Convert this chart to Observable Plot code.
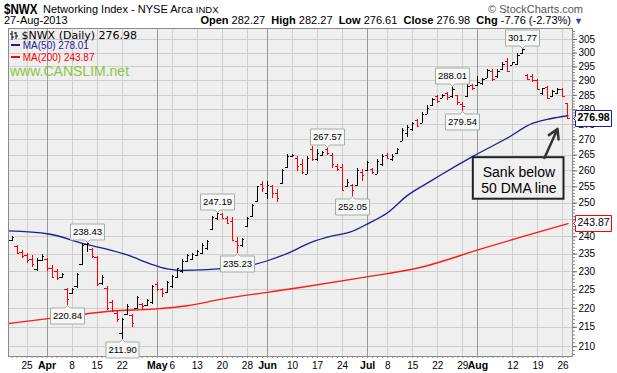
<!DOCTYPE html>
<html><head><meta charset="utf-8">
<script src="https://cdn.jsdelivr.net/npm/d3@7"></script>
<script src="https://cdn.jsdelivr.net/npm/@observablehq/plot@0.6"></script>
<style>
body{margin:0;background:#fff;font-family:"Liberation Sans",Arial,sans-serif;}
#wrap{position:relative;width:617px;height:373px;overflow:hidden;background:#fff;}
#chart{position:absolute;left:0;top:0;}
.abs{position:absolute;white-space:nowrap;line-height:1;}
.b{font-weight:bold;}
</style></head><body>
<div id="wrap">
  <div id="chart"></div>
  <div class="abs" style="left:4px;top:1.5px;font-size:14.5px;font-weight:bold;transform:scaleX(0.8);transform-origin:0 0">$NWX</div>
  <div class="abs" style="left:43px;top:3.5px;font-size:11px">Networking Index - NYSE Arca <span style="font-size:9.5px">INDX</span></div>
  <div class="abs" style="right:34px;top:3.5px;font-size:11px;color:#555">© StockCharts.com</div>
  <div class="abs" style="left:4px;top:15px;font-size:11px">27-Aug-2013</div>
  <div class="abs" style="right:34px;top:15px;font-size:11px"><span class="b">Open</span> 282.27&nbsp; <span class="b">High</span> 282.27&nbsp; <span class="b">Low</span> 276.61&nbsp; <span class="b">Close</span> 276.98&nbsp; <span class="b">Chg</span> -7.76 (-2.73%) <span style="color:#1a3fd6;font-size:9px">▼</span></div>
  <div class="abs" style="left:10px;top:29.5px;font-family:'DejaVu Sans',Verdana,sans-serif;font-size:11px"><svg width="8" height="9" style="vertical-align:-1px"><path d="M2 0V9M0 3H2M2 6H4M6 1V8M4 2H6M6 5H8" stroke="#000" fill="none"/></svg> $NWX (Daily) 276.98</div>
  <div class="abs" style="left:11px;top:41px;font-size:10px;color:#1c1c96"><span style="display:inline-block;width:9px;height:2px;background:#1c1c96;vertical-align:3px"></span> MA(50) 278.01</div>
  <div class="abs" style="left:11px;top:52.5px;font-size:10px;color:#f00"><span style="display:inline-block;width:9px;height:2px;background:#f00;vertical-align:3px"></span> MA(200) 243.87</div>
  <div class="abs" style="left:10px;top:64px;font-size:14px;color:#8cc63f">www.CANSLIM.net</div>
</div>
<script>
// ---- data ----
const dates = ["2013-03-20","2013-03-21","2013-03-22","2013-03-25","2013-03-26","2013-03-27","2013-03-28",
"2013-04-01","2013-04-02","2013-04-03","2013-04-04","2013-04-05","2013-04-08","2013-04-09","2013-04-10","2013-04-11","2013-04-12",
"2013-04-15","2013-04-16","2013-04-17","2013-04-18","2013-04-19","2013-04-22","2013-04-23","2013-04-24","2013-04-25","2013-04-26",
"2013-04-29","2013-04-30","2013-05-01","2013-05-02","2013-05-03","2013-05-06","2013-05-07","2013-05-08","2013-05-09","2013-05-10",
"2013-05-13","2013-05-14","2013-05-15","2013-05-16","2013-05-17","2013-05-20","2013-05-21","2013-05-22","2013-05-23","2013-05-24",
"2013-05-28","2013-05-29","2013-05-30","2013-05-31","2013-06-03","2013-06-04","2013-06-05","2013-06-06","2013-06-07",
"2013-06-10","2013-06-11","2013-06-12","2013-06-13","2013-06-14","2013-06-17","2013-06-18","2013-06-19","2013-06-20","2013-06-21",
"2013-06-24","2013-06-25","2013-06-26","2013-06-27","2013-06-28","2013-07-01","2013-07-02","2013-07-03","2013-07-05",
"2013-07-08","2013-07-09","2013-07-10","2013-07-11","2013-07-12","2013-07-15","2013-07-16","2013-07-17","2013-07-18","2013-07-19",
"2013-07-22","2013-07-23","2013-07-24","2013-07-25","2013-07-26","2013-07-29","2013-07-30","2013-07-31","2013-08-01","2013-08-02",
"2013-08-05","2013-08-06","2013-08-07","2013-08-08","2013-08-09","2013-08-12","2013-08-13","2013-08-14","2013-08-15","2013-08-16",
"2013-08-19","2013-08-20","2013-08-21","2013-08-22","2013-08-23","2013-08-26","2013-08-27"];
const open = [239.0,237.2,235.5,234.5,233.5,230.5,233.2,233.5,231.0,230.0,228.4,225.0,224.0,225.8,232.0,237.8,236.3,234.0,226.8,225.5,
221.5,218.5,213.5,218.3,218.0,220.0,221.0,220.8,221.5,226.5,225.0,224.3,226.0,228.3,230.0,233.0,233.5,234.5,235.2,236.5,
242.0,245.5,246.5,245.5,244.5,238.5,237.5,243.0,246.0,250.5,255.8,253.0,255.0,253.0,256.0,261.0,264.5,264.0,262.0,259.0,
267.0,263.5,265.0,267.0,265.0,261.5,261.0,255.0,255.5,255.5,259.5,260.0,260.5,259.0,262.0,265.0,263.5,265.5,269.5,272.0,
273.5,276.5,275.5,278.5,281.5,284.5,284.0,285.8,284.5,285.0,282.0,284.5,288.5,288.5,289.0,291.0,293.5,291.5,294.0,297.0,
295.6,296.0,300.0,292.0,291.5,290.0,285.5,287.8,284.6,285.6,287.0,282.27];
const high = [240.1,237.5,236.1,235.2,234.5,233.7,234.8,233.8,231.8,230.5,229.5,225.5,225.5,229.5,238.0,238.43,236.6,234.2,229.0,225.9,
222.0,219.4,217.2,221.0,218.4,223.3,221.4,222.3,226.3,227.0,225.5,227.2,229.0,231.0,233.4,235.0,235.3,236.0,237.9,238.8,
246.1,247.19,246.8,246.0,245.6,239.8,239.5,245.8,249.7,255.2,256.7,256.7,255.5,254.2,260.3,265.1,265.3,264.6,263.5,264.6,
267.8,266.7,266.1,267.57,265.6,261.9,261.9,257.2,255.7,260.8,260.3,263.0,260.8,263.5,265.1,265.6,265.1,267.3,273.6,274.7,
275.8,276.9,279.2,281.5,284.0,285.0,285.3,286.1,288.01,285.0,282.6,288.8,288.8,291.6,291.0,294.1,294.1,294.1,296.7,297.9,
296.7,299.7,301.77,292.3,292.3,290.5,287.5,288.1,286.8,287.5,287.5,282.27];
const low = [238.6,234.8,233.7,232.3,231.3,230.0,232.9,230.0,228.0,227.5,228.2,220.84,223.7,225.5,231.7,235.5,233.7,225.9,226.3,219.4,
218.9,216.3,211.90,218.0,215.0,219.7,219.4,220.6,221.0,224.5,222.8,224.0,225.5,228.0,229.5,232.5,233.2,234.3,234.8,236.1,
241.8,244.8,245.0,243.8,238.5,235.23,236.8,242.6,245.6,250.2,253.2,251.0,251.5,250.2,255.8,260.8,264.3,259.8,258.8,258.8,
263.0,263.0,264.6,265.0,260.8,259.8,253.7,254.7,252.05,255.1,256.7,259.8,258.8,258.8,261.3,263.5,263.0,265.1,269.3,270.9,
272.6,274.2,275.3,278.3,281.1,282.1,283.8,283.2,284.0,281.6,279.54,284.2,286.7,288.0,288.3,290.8,289.8,291.0,293.6,293.0,
295.5,295.5,299.5,290.1,289.5,286.6,285.1,283.5,284.4,285.3,284.7,276.61];
const close = [239.8,235.3,234.2,233.2,232.0,233.2,234.3,231.0,228.5,228.0,229.2,222.5,225.2,229.2,237.5,237.9,234.3,226.5,228.5,220.0,
219.5,217.0,217.1,220.5,216.0,222.8,220.5,222.0,225.8,225.2,224.0,227.0,228.7,230.8,233.0,234.7,235.0,235.8,237.5,238.5,
245.8,246.8,245.5,244.0,239.0,237.5,239.2,245.3,249.3,255.0,254.5,255.5,253.0,251.5,260.0,264.5,265.0,261.5,259.5,264.0,
263.5,265.5,265.8,265.5,262.0,260.5,254.0,256.5,254.0,260.0,258.5,262.5,259.5,263.0,264.5,264.0,264.5,267.0,273.0,274.0,
275.5,274.5,278.5,280.5,283.5,282.8,284.8,284.2,287.0,282.5,281.0,288.0,287.2,289.5,290.5,293.8,290.5,293.5,296.0,293.5,
296.5,299.3,301.2,290.5,290.2,287.0,287.2,284.0,286.3,287.0,284.74,276.98];
// moving averages (bar position, value)
const ma50Pos = [-0.7,7.3,15,18.7,23.3,27.6,31,33.6,39,43,47.6,51,55,59.6,64.2,67.6,71,74.9,78.9,83.5,85.5,92,98.8,104,107.5,111];
const ma50Val = [241.7,240.8,237.7,236.5,234.6,232.2,230.8,230.4,230.6,231.0,231.8,233.1,235.2,238.3,240.3,241.4,243.8,247.0,252.3,256.7,258.6,264.6,270.5,275.5,277.0,278.01];
const ma200Pos = [-0.7,11.7,20,28.2,35,41.6,56.9,69.6,81.5,93.5,101.4,111];
const ma200Val = [216.0,218.0,219.3,219.8,220.7,222.4,225.5,228.3,231.2,236.4,239.8,243.87];
// x-axis tick labels
const tickDates = ["2013-03-25","2013-04-01","2013-04-08","2013-04-15","2013-04-22","2013-05-01","2013-05-06","2013-05-13","2013-05-20","2013-05-28",
"2013-06-03","2013-06-10","2013-06-17","2013-06-24","2013-07-01","2013-07-08","2013-07-15","2013-07-22","2013-07-29","2013-08-01","2013-08-12","2013-08-19","2013-08-26"];
const tickLabels = ["25","Apr","8","15","22","May","6","13","20","28","Jun","10","17","24","Jul","8","15","22","29","Aug","12","19","26"];
const yTicks = d3.range(210, 306, 5);
// callouts
const peakDates = ["2013-04-11","2013-05-17","2013-06-19","2013-07-25","2013-08-14"];
const peakVals = [238.43,247.19,267.57,288.01,301.77];
const troughDates = ["2013-04-05","2013-04-22","2013-05-23","2013-06-26","2013-07-29"];
const troughVals = [220.84,211.90,235.23,252.05,279.54];
const note = {text: "Sank below\n50 DMA line", x1: 92.1, x2: 110.2, y1: 251.2, y2: 264.2, tx: 101.2, ty: 257.2, ax1: 106.3, ay1: 264.1, ax2: 108.9, ay2: 273.6};
const lastClose = 276.98, lastMA200 = 243.87;

// ---- build ----
const bars = dates.map((d, i) => ({i, o: open[i], h: high[i], l: low[i], c: close[i],
  col: i === 0 || close[i] >= close[i - 1] ? "#000000" : "#ff0000"}));
const ix = d => dates.indexOf(d);
const ticks = tickDates.map((d, k) => ({i: ix(d), label: tickLabels[k], month: isNaN(+tickLabels[k])}));
const dayTicks = ticks.filter(t => !t.month), monthTicks = ticks.filter(t => t.month);
const lab = new Map(ticks.map(t => [t.i, t.label]));
const ma50 = ma50Pos.map((p, k) => ({p, v: ma50Val[k]}));
const ma200 = ma200Pos.map((p, k) => ({p, v: ma200Val[k]}));
const peaks = peakDates.map((d, k) => ({i: ix(d), v: peakVals[k]}));
const troughs = troughDates.map((d, k) => ({i: ix(d), v: troughVals[k]}));
const lastI = dates.length - 1;
const blank = () => "";

const tipStyle = {fill: "#f7f7f7", stroke: "#9fb09f", fontSize: 9.5, textPadding: 2.5, pointerSize: 5, pathFilter: "none", fontFamily: "Liberation Sans, Arial, sans-serif"};

const chart = Plot.plot({
  width: 617, height: 373,
  marginLeft: 8, marginRight: 45, marginTop: 28, marginBottom: 17,
  x: {type: "linear", domain: [-0.7, 111.9], axis: null},
  y: {type: "log", domain: [207.5, 309.1], axis: null},
  style: {fontFamily: "Liberation Sans, Arial, sans-serif", fontSize: "10px", background: "transparent", color: "#000"},
  marks: [
    Plot.frame({fill: "#efefef", stroke: null}),
    Plot.gridY(yTicks, {stroke: "#cfcfcf", strokeOpacity: 1, shapeRendering: "crispEdges"}),
    Plot.gridX(dayTicks, {x: "i", stroke: "#cfcfcf", strokeOpacity: 1, shapeRendering: "crispEdges"}),
    Plot.gridX(monthTicks, {x: "i", stroke: "#9a9a9a", strokeOpacity: 1, shapeRendering: "crispEdges"}),
    Plot.line(ma200, {x: "p", y: "v", stroke: "#ff1a1a", strokeWidth: 1.4, curve: "monotone-x"}),
    Plot.line(ma50, {x: "p", y: "v", stroke: "#1c1c96", strokeWidth: 1.3, curve: "monotone-x"}),
    Plot.ruleX(bars, {x: "i", y1: "l", y2: "h", stroke: "col", shapeRendering: "crispEdges"}),
    Plot.ruleY(bars, {y: "o", x1: d => d.i - 0.45, x2: "i", stroke: "col", shapeRendering: "crispEdges"}),
    Plot.ruleY(bars, {y: "c", x1: "i", x2: d => d.i + 0.45, stroke: "col", shapeRendering: "crispEdges"}),
    Plot.frame({stroke: "#8a8a8a", shapeRendering: "crispEdges"}),
    Plot.axisY(d3.range(208, 309, 1), {anchor: "right", tickSize: 2, tickFormat: blank, stroke: "#888"}),
    Plot.axisY(yTicks, {anchor: "right", tickSize: 4, tickPadding: 2, fontSize: 10, stroke: "#666"}),
    Plot.axisX(d3.range(0, 112), {anchor: "bottom", tickSize: 2, tickFormat: blank, stroke: "#888"}),
    Plot.axisX(dayTicks.map(t => t.i), {anchor: "bottom", tickSize: 0, tickPadding: 5, tickFormat: i => lab.get(i), fontSize: 10}),
    Plot.axisX(monthTicks.map(t => t.i), {anchor: "bottom", tickSize: 0, tickPadding: 5, tickFormat: i => lab.get(i), fontSize: 10.5, fontWeight: "bold"}),
    Plot.tip(peaks, {x: "i", y: "v", title: d => d.v.toFixed(2), anchor: "bottom", ...tipStyle}),
    Plot.tip(troughs, {x: "i", y: "v", title: d => d.v.toFixed(2), anchor: "top", ...tipStyle}),
    Plot.rect([note], {x1: "x1", x2: "x2", y1: "y1", y2: "y2", fill: "#f0f0f0", stroke: "#222", strokeWidth: 2}),
    Plot.text([note], {x: "tx", y: "ty", text: "text", fontSize: 14, lineHeight: 1.15, fill: "#000"}),
    Plot.arrow([note], {x1: "ax1", y1: "ay1", x2: "ax2", y2: "ay2", stroke: "#333", strokeWidth: 2.5, headLength: 10}),
    Plot.tip([{i: lastI + 1, v: lastClose}], {x: "i", y: "v", title: d => d.v.toFixed(2), anchor: "left", fill: "#fff", stroke: "#1c1c96", fontSize: 10.5, fontWeight: "bold", textPadding: 2, pointerSize: 4, pathFilter: "none"}),
    Plot.tip([{i: lastI + 1, v: lastMA200}], {x: "i", y: "v", title: d => d.v.toFixed(2), anchor: "left", fill: "#fff", stroke: "#ff0000", fontSize: 10.5, textPadding: 2, pointerSize: 4, pathFilter: "none"})
  ]
});
document.getElementById("chart").appendChild(chart);
</script>
</body></html>
